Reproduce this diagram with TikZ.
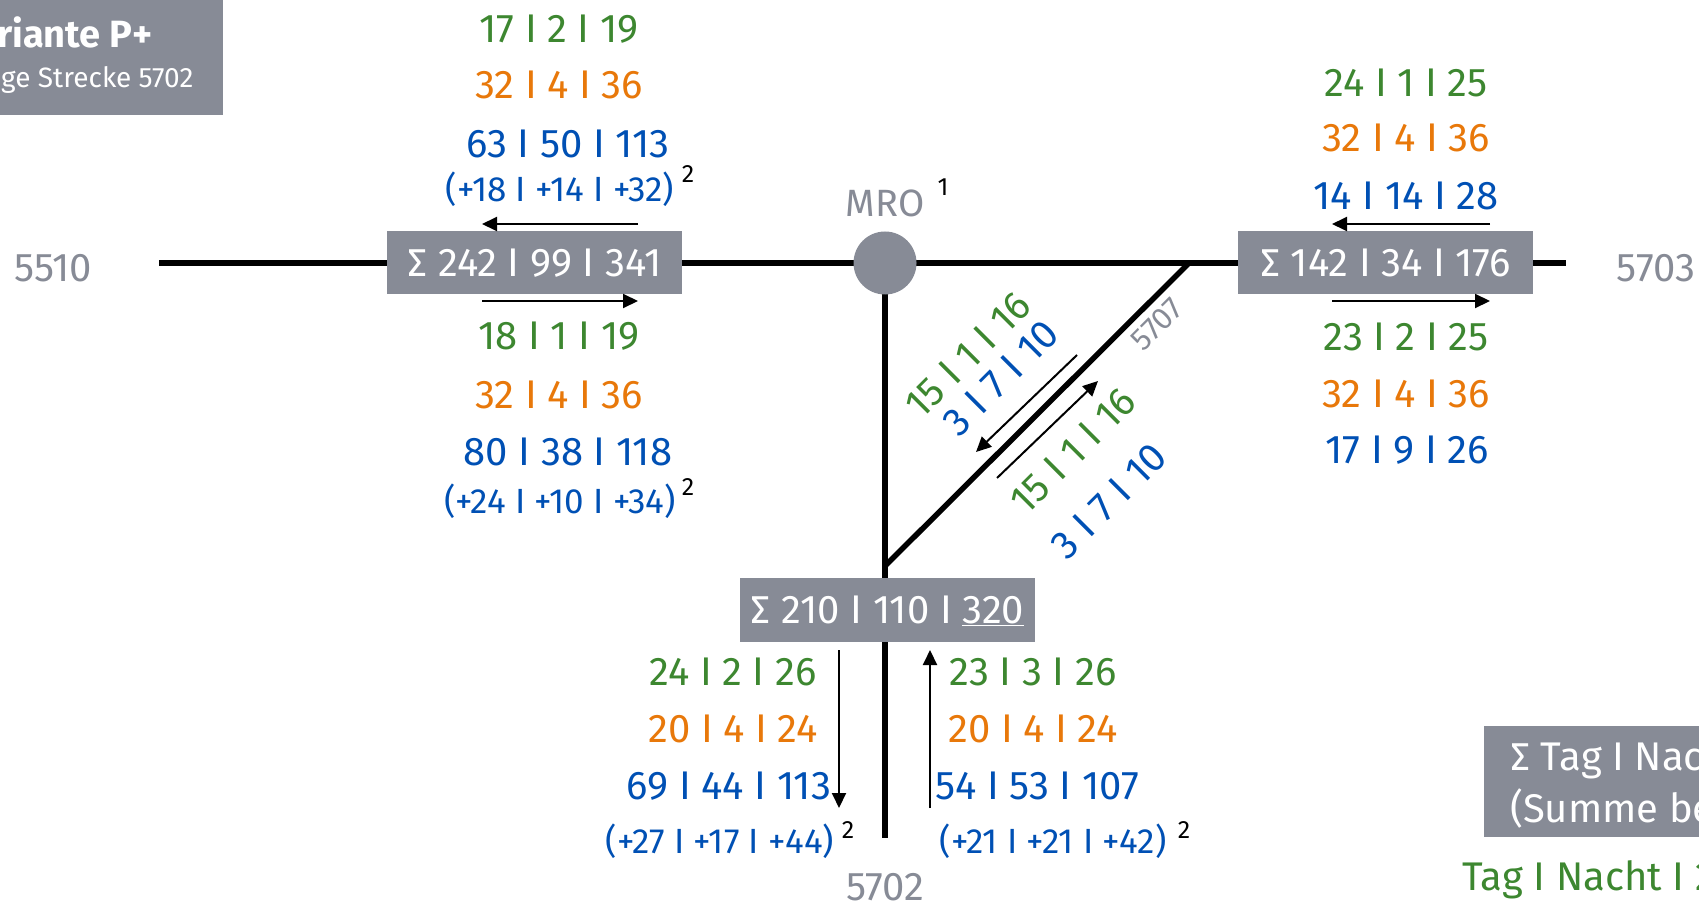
\documentclass[tikz,border=0pt]{standalone}
\usepackage{fontspec}
\setmainfont{Fira Sans}
\usetikzlibrary{arrows.meta}
\definecolor{cgreen}{RGB}{61,135,48}
\definecolor{corange}{RGB}{232,120,10}
\definecolor{cblue}{RGB}{0,80,180}
\definecolor{cgray}{RGB}{135,139,150}
\newcommand\nfsize{\fontsize{40}{46}\selectfont}
\newcommand\pfsize{\fontsize{35}{40}\selectfont}
\newcommand\sfsize{\fontsize{25}{28}\selectfont}
\begin{document}
\begin{tikzpicture}[x=1pt,y=-1pt,
  track/.style={line width=5.5pt},
  flow/.style={line width=2pt,-{Triangle[length=15pt,width=14pt]}},
  sumbox/.style={fill=cgray,text=white,minimum width=295pt,minimum height=63pt,
    inner sep=0pt,font=\nfsize,text height=28pt,text depth=0pt},
  num/.style={font=\nfsize,inner sep=0pt,anchor=base},
  par/.style={font=\pfsize,inner sep=0pt,anchor=base,text=cblue},
  sup/.style={font=\sfsize,inner sep=0pt,anchor=base},
  g/.style={num,text=cgreen},
  o/.style={num,text=corange},
  b/.style={num,text=cblue},
  lbl/.style={num,text=cgray},
  diag/.style={font=\nfsize,inner sep=0pt,rotate=45}
]
\useasboundingbox (0,0) rectangle (1699,901);

% track ends and junctions
\coordinate (w) at (159,263);
\coordinate (e) at (1566,263);
\coordinate (s) at (885,838);
\coordinate (j) at (1189,263);
\coordinate (d) at (885,566);

% tracks
\draw[track] (w) -- (e);
\draw[track] (885,263) -- (s);
\draw[track] (d) -- (j);

% junction MRO
\node[circle,fill=cgray,minimum size=63pt,inner sep=0pt] (mro) at (885,263) {};
\node[lbl,font=\fontsize{38}{42}\selectfont] (mrol) at (885,217) {MRO};
\node[sup] (mros) at (943,196) {1};

% sum boxes
\node[sumbox] (bw) at (534.5,262.5) {∑ 242 I 99 I 341};
\node[sumbox] (be) at (1385.5,262.5) {∑ 142 I 34 I 176};
\node[sumbox,minimum height=64pt] (bs) at (887.5,609.5) {∑ 210 I 110 I \underline{320}};

% line numbers
\node[lbl] (l5510) at (53,281) {5510};
\node[lbl] (l5703) at (1656,282) {5703};
\node[lbl] (l5702) at (885,900) {5702};
\node[text=cgray,font=\fontsize{31}{34}\selectfont,inner sep=0pt,rotate=45] (l5707) at (1157,324) {5707};

% west flows
\coordinate (wa1) at (638,224); \coordinate (wa2) at (482,224);
\coordinate (wb1) at (482,301); \coordinate (wb2) at (638,301);
\draw[flow] (wa1) -- (wa2);
\draw[flow] (wb1) -- (wb2);
\node[g] (tw1) at (559,43) {17 I 2 I 19};
\node[o] (tw2) at (559,99) {32 I 4 I 36};
\node[b] (tw3) at (568,158) {63 I 50 I 113};
\node[par] (tw4) at (560,202) {(+18 I +14 I +32)};
\node[sup] (tw5) at (688,183) {2};
\node[g] (bw1) at (559,349) {18 I 1 I 19};
\node[o] (bw2) at (559,408) {32 I 4 I 36};
\node[b] (bw3) at (568,465) {80 I 38 I 118};
\node[par] (bw4) at (560,513) {(+24 I +10 I +34)};
\node[sup] (bw5) at (688,495) {2};

% east flows
\coordinate (ea1) at (1490,224); \coordinate (ea2) at (1332,224);
\coordinate (eb1) at (1332,301); \coordinate (eb2) at (1490,301);
\draw[flow] (ea1) -- (ea2);
\draw[flow] (eb1) -- (eb2);
\node[g] (te1) at (1406,97) {24 I 1 I 25};
\node[o] (te2) at (1406,152) {32 I 4 I 36};
\node[b] (te3) at (1406,210) {14 I 14 I 28};
\node[g] (be1) at (1406,350) {23 I 2 I 25};
\node[o] (be2) at (1406,407) {32 I 4 I 36};
\node[b] (be3) at (1407,463) {17 I 9 I 26};

% south flows
\coordinate (sa1) at (839,650); \coordinate (sa2) at (839,808);
\coordinate (sb1) at (930,808); \coordinate (sb2) at (930,650);
\draw[flow] (sa1) -- (sa2);
\draw[flow] (sb1) -- (sb2);
\node[g] (ts1) at (733,685) {24 I 2 I 26};
\node[o] (ts2) at (733,742) {20 I 4 I 24};
\node[b] (ts3) at (729,799) {69 I 44 I 113};
\node[par] (ts4) at (720,853) {(+27 I +17 I +44)};
\node[sup] (ts5) at (848,838) {2};
\node[g] (bs1) at (1033,685) {23 I 3 I 26};
\node[o] (bs2) at (1033,742) {20 I 4 I 24};
\node[b] (bs3) at (1037,799) {54 I 53 I 107};
\node[par] (bs4) at (1053,853) {(+21 I +21 I +42)};
\node[sup] (bs5) at (1184,838) {2};

% diagonal flows (5707)
\coordinate (da1) at (1077,355); \coordinate (da2) at (976,452);
\coordinate (db1) at (997,478); \coordinate (db2) at (1098,381);
\draw[flow] (da1) -- (da2);
\draw[flow] (db1) -- (db2);
\node[diag,text=cgreen] (dt1) at (968,355) {15 I 1 I 16};
\node[diag,text=cblue] (dt2) at (1001,378) {3 I 7 I 10};
\node[diag,text=cgreen] (dt3) at (1073,451) {15 I 1 I 16};
\node[diag,text=cblue] (dt4) at (1109,501) {3 I 7 I 10};

% title panel
\fill[cgray] (0,0) rectangle (223,115);
\node[inner sep=0pt,anchor=base west,text=white,font=\fontsize{38}{44}\bfseries] (tt1) at (-3,48) {riante P+};
\node[inner sep=0pt,anchor=base west,text=white,font=\fontsize{28}{32}\selectfont] (tt2) at (1,88) {ge Strecke 5702};

% legend panel
\fill[cgray] (1484,726) rectangle (1699,837);
\node[inner sep=0pt,anchor=base west,text=white,font=\nfsize] (lg1) at (1510,770) {∑ Tag I Nac};
\node[inner sep=0pt,anchor=base west,text=white,font=\nfsize] (lg2) at (1510,822) {(Summe be};
\node[inner sep=0pt,anchor=base west,text=cgreen,font=\nfsize] (lg3) at (1462,890) {Tag I Nacht I 2};
\end{tikzpicture}
\end{document}
